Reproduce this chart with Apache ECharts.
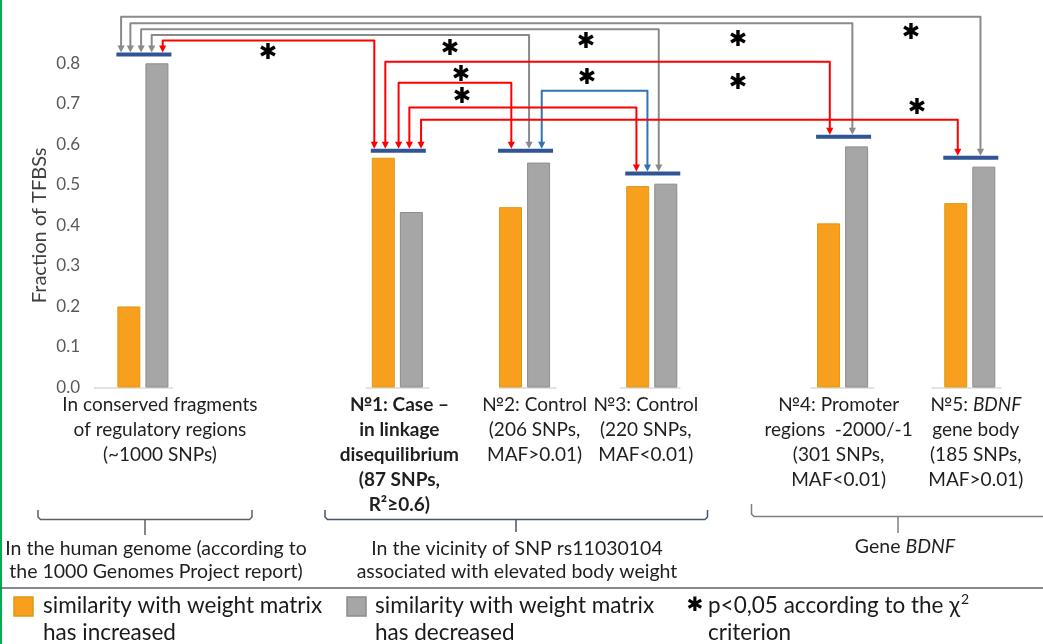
<!DOCTYPE html>
<html><head><meta charset="utf-8">
<script src="https://cdn.jsdelivr.net/npm/echarts@6.0.0/dist/echarts.min.js"></script>
<style>html,body{margin:0;padding:0;background:#fff}#c{width:1043px;height:644px}</style>
</head><body><div id="c"></div>
<script>
// ---------------- data ----------------
const categories = [
  'In conserved fragments\nof regulatory regions\n(~1000 SNPs)',
  '№1: Case –\nin linkage\ndisequilibrium\n(87 SNPs,\nR²≥0.6)',
  '№2: Control\n(206 SNPs,\nMAF>0.01)',
  '№3: Control\n(220 SNPs,\nMAF<0.01)',
  '№4: Promoter\nregions  -2000/-1\n(301 SNPs,\nMAF<0.01)',
  '№5: BDNF\ngene body\n(185 SNPs,\nMAF>0.01)'
];
const increased = [0.20, 0.567, 0.445, 0.497, 0.405, 0.455];
const decreased = [0.80, 0.433, 0.555, 0.503, 0.595, 0.545];
const yTickLabels = ['0.0','0.1','0.2','0.3','0.4','0.5','0.6','0.7','0.8'];
// significant pairwise comparisons (group index -> group index), p<0.05
const comparisons = [[0,5],[0,4],[0,3],[0,2],[0,1],[1,4],[1,2],[2,3],[1,3],[1,5]];
const groupTitles = [
  'In the human genome (according to\nthe 1000 Genomes Project report)',
  'In the vicinity of SNP rs11030104\nassociated with elevated body weight',
  'Gene {i|BDNF}'
];
const legendLabels = [
  'similarity with weight matrix\nhas increased',
  'similarity with weight matrix\nhas decreased',
  'p<0,05 according to the χ{sup|2}\ncriterion'
];

// ---------------- layout (not data) ----------------
const SLOTS = 14;
const groupSlots = [0, 4, 6, 8, 11, 13];
const labelShift = [17, 2, 10, -6, -4, 6];
const capLevels = [0.822, 0.584, 0.584, 0.528, 0.619, 0.567];
const axisSeg = [[-0.77, 0.47], [-0.5, 0.5], [-0.4, 0.5], [-0.5, 0.45], [-0.5, 0.5], [-0.6, 0.5]];
// per comparison: bracket level, offset at start group, offset at end group (slot units), colour key, star slot, star level
const connLayout = [
  [0.915, -0.343, 0.168, 'g', 12.075, 0.875],
  [0.899, -0.197, 0.154, 'g', 9.355, 0.857],
  [0.884, -0.028, 0.110, 'g', 6.966, 0.852],
  [0.870,  0.138, 0.071, 'g', 4.828, 0.835],
  [0.856,  0.311, -0.362, 'r', 1.967, 0.825],
  [0.804, -0.189, -0.201, 'r', 9.355, 0.751],
  [0.752,  0.020, -0.208, 'r', 5.000, 0.771],
  [0.732,  0.270, -0.068, 'b', 6.982, 0.764],
  [0.691,  0.189, -0.241, 'r', 5.016, 0.717],
  [0.661,  0.373, -0.189, 'r', 12.169, 0.690]
];
const connColors = { g: '#8A8A8A', r: '#FF0000', b: '#2E75B6' };
const ORANGE = '#F99F1E', ORANGE_B = '#D99A14', GRAY = '#A6A6A6', GRAY_B = '#8C8C8C';
const FONT = 'Lato, "Open Sans", sans-serif';
const LBL = 19;

// ---------------- build ----------------
const xData = [];
for (let s = 0; s < SLOTS; s++) {
  const gi = groupSlots.indexOf(s);
  if (gi < 0) { xData.push('_' + s); continue; }
  const sh = labelShift[gi];
  xData.push({ value: categories[gi], textStyle: { padding: sh >= 0 ? [0, 0, 0, 2 * sh] : [0, -2 * sh, 0, 0] } });
}
function slotted(arr) {
  const out = new Array(SLOTS).fill('-');
  groupSlots.forEach((s, i) => out[s] = arr[i]);
  return out;
}
function labelFmt(val) {
  if (!val || val[0] === '_') return '';
  const bold = val.indexOf('№1') === 0;
  return val.split('\n').map(line => {
    const k = line.indexOf('BDNF');
    if (k >= 0) {
      const a = line.slice(0, k), b = line.slice(k + 4);
      return (a ? '{n|' + a + '}' : '') + '{i|BDNF}' + (b ? '{n|' + b + '}' : '');
    }
    return bold ? '{b|' + line + '}' : '{n|' + line + '}';
  }).join('\n');
}
function brace(pts, stem, color) {
  return [
    { type: 'polyline', shape: { points: pts }, style: { stroke: color, lineWidth: 1.5, fill: null, lineJoin: 'round' } },
    { type: 'line', shape: { x1: stem[0], y1: stem[1], x2: stem[0], y2: stem[2] }, style: { stroke: color, lineWidth: 1.5 } }
  ];
}

const chart = echarts.init(document.getElementById('c'), null, { renderer: 'canvas' });

const option = {
  backgroundColor: '#ffffff',
  animation: false,
  grid: { left: 111.1, right: 41.4, top: 63.3, bottom: 256.5 },
  xAxis: {
    type: 'category',
    data: xData,
    axisLine: { show: false },
    axisTick: { show: false },
    axisLabel: {
      interval: 0, margin: 5, verticalAlign: 'top',
      formatter: labelFmt,
      rich: {
        n: { fontFamily: FONT, fontSize: LBL, color: '#1f1f1f', lineHeight: 25 },
        b: { fontFamily: FONT, fontSize: LBL, fontWeight: 'bold', color: '#1f1f1f', lineHeight: 25 },
        i: { fontFamily: FONT, fontSize: LBL, fontStyle: 'italic', color: '#1f1f1f', lineHeight: 25 }
      }
    }
  },
  yAxis: {
    type: 'value', min: 0, max: 0.8, interval: 0.1,
    name: 'Fraction of TFBSs', nameLocation: 'middle', nameGap: 62, nameRotate: 90, nameMoveOverlap: false,
    nameTextStyle: { fontFamily: FONT, fontSize: 20, color: '#404040' },
    axisLine: { show: false }, axisTick: { show: false }, splitLine: { show: false },
    axisLabel: {
      margin: 31, fontFamily: FONT, fontSize: 17, color: '#595959',
      formatter: (v) => yTickLabels[Math.round(v * 10)] || ''
    }
  },
  series: [
    {
      type: 'custom', name: 'axis', coordinateSystem: 'cartesian2d', clip: false, silent: true, z: 1,
      data: groupSlots.map((s, i) => [s, 0, i]),
      renderItem: (params, api) => {
        const i = params.dataIndex;
        const p = api.coord([groupSlots[i], 0]);
        const bw = api.size([1, 0])[0];
        return { type: 'line', shape: { x1: p[0] + axisSeg[i][0] * bw, y1: p[1] + 0.5, x2: p[0] + axisSeg[i][1] * bw, y2: p[1] + 0.5 },
                 style: { stroke: '#D9D9D9', lineWidth: 1.5 } };
      }
    },
    {
      type: 'bar', name: 'similarity with weight matrix has increased', data: slotted(increased),
      barWidth: 23, barGap: '22%', z: 2,
      itemStyle: { color: ORANGE, borderColor: ORANGE_B, borderWidth: 1 }
    },
    {
      type: 'bar', name: 'similarity with weight matrix has decreased', data: slotted(decreased),
      barWidth: 23, barGap: '22%', z: 2,
      itemStyle: { color: GRAY, borderColor: GRAY_B, borderWidth: 1 }
    },
    {
      type: 'custom', name: 'caps', coordinateSystem: 'cartesian2d', clip: false, silent: true, z: 4,
      data: groupSlots.map((s, i) => [s, capLevels[i]]),
      renderItem: (params, api) => {
        const p = api.coord([api.value(0), api.value(1)]);
        const bw = api.size([1, 0])[0];
        const w = 0.865 * bw;
        return { type: 'rect', shape: { x: p[0] - w / 2 + 1, y: p[1] - 2, width: w, height: 4 }, style: { fill: '#2F5597' } };
      }
    },
    {
      type: 'custom', name: 'significance', coordinateSystem: 'cartesian2d', clip: false, silent: true, z: 5,
      data: comparisons.map((c, k) => [groupSlots[c[0]], connLayout[k][0], k]),
      renderItem: (params, api) => {
        const k = params.dataIndex;
        const [a, b] = comparisons[k];
        const [lvl, offA, offB, ck, sSlot, sLvl] = connLayout[k];
        const bw = api.size([1, 0])[0];
        const X = (base, off) => api.coord([base, 0])[0] + off * bw;
        const Y = (v) => api.coord([0, v])[1];
        const col = connColors[ck];
        const xa = X(groupSlots[a], offA), xb = X(groupSlots[b], offB);
        const ta = Y(capLevels[a]) - 2, tb = Y(capLevels[b]) - 2, yl = Y(lvl);
        const AH = 7, AW = 3.6;
        const sb = Math.round(sSlot);
        return {
          type: 'group',
          children: [
            { type: 'polyline', shape: { points: [[xa, ta - AH + 1], [xa, yl], [xb, yl], [xb, tb - AH + 1]] },
              style: { stroke: col, lineWidth: 2, fill: null, lineJoin: 'round' } },
            { type: 'polygon', shape: { points: [[xa - AW, ta - AH], [xa + AW, ta - AH], [xa, ta]] }, style: { fill: col } },
            { type: 'polygon', shape: { points: [[xb - AW, tb - AH], [xb + AW, tb - AH], [xb, tb]] }, style: { fill: col } },
            { type: 'text', x: X(sb, sSlot - sb), y: Y(sLvl),
              style: { text: '✱', fill: '#000', font: 'bold 22px "DejaVu Sans"', align: 'center', verticalAlign: 'middle' } }
          ]
        };
      }
    }
  ],
  graphic: { elements: [
    { type: 'line', shape: { x1: 1, y1: 0, x2: 1, y2: 644 }, style: { stroke: '#00B050', lineWidth: 2 } },
    { type: 'line', shape: { x1: 0, y1: 588, x2: 1043, y2: 588 }, style: { stroke: '#5B6270', lineWidth: 1.5 } },
    // group braces
    ...brace([[38, 510], [38, 517], [40.5, 519.5], [249.5, 519.5], [252, 517], [252, 510]], [145, 519.5, 535], '#5f5f5f'),
    ...brace([[325, 510], [325, 517], [327.5, 519.5], [705, 519.5], [707.5, 517], [707.5, 510]], [516, 519.5, 532], '#44546A'),
    ...brace([[751.5, 504], [751.5, 514], [754, 516.5], [1043, 516.5]], [898, 516.5, 533], '#7F7F7F'),
    // group titles
    { type: 'text', x: 156, y: 537.5, style: { text: groupTitles[0], font: '19.5px ' + FONT, fill: '#1f1f1f', align: 'center', verticalAlign: 'top', lineHeight: 23 } },
    { type: 'text', x: 517, y: 537.5, style: { text: groupTitles[1], font: '19.5px ' + FONT, fill: '#1f1f1f', align: 'center', verticalAlign: 'top', lineHeight: 23 } },
    { type: 'text', x: 905, y: 535.5, style: { text: groupTitles[2], align: 'center', verticalAlign: 'top',
        rich: { i: { fontFamily: FONT, fontSize: 19.5, fontStyle: 'italic', fill: '#1f1f1f', lineHeight: 23 } },
        font: '19.5px ' + FONT, fill: '#1f1f1f', lineHeight: 23 } },
    // legend
    { type: 'rect', shape: { x: 14, y: 597, width: 19, height: 19 }, style: { fill: ORANGE, stroke: ORANGE_B, lineWidth: 1.5 } },
    { type: 'text', x: 43, y: 592.5, style: { text: legendLabels[0], font: '22.5px ' + FONT, fill: '#1a1a1a', lineHeight: 27, verticalAlign: 'top' } },
    { type: 'rect', shape: { x: 347, y: 597, width: 19, height: 19 }, style: { fill: GRAY, stroke: GRAY_B, lineWidth: 1.5 } },
    { type: 'text', x: 375, y: 592.5, style: { text: legendLabels[1], font: '22.5px ' + FONT, fill: '#1a1a1a', lineHeight: 27, verticalAlign: 'top' } },
    { type: 'text', x: 695, y: 606, style: { text: '✱', font: 'bold 20px "DejaVu Sans"', fill: '#000', align: 'center', verticalAlign: 'middle' } },
    { type: 'text', x: 708, y: 592.5, style: { text: legendLabels[2], font: '22.5px ' + FONT, fill: '#1a1a1a', lineHeight: 27, verticalAlign: 'top',
        rich: { sup: { fontFamily: FONT, fontSize: 14, fill: '#1a1a1a', verticalAlign: 'top', padding: [0, 0, 12, 1], lineHeight: 27 } } } }
  ] }
};
chart.setOption(option);
</script>
</body></html>
